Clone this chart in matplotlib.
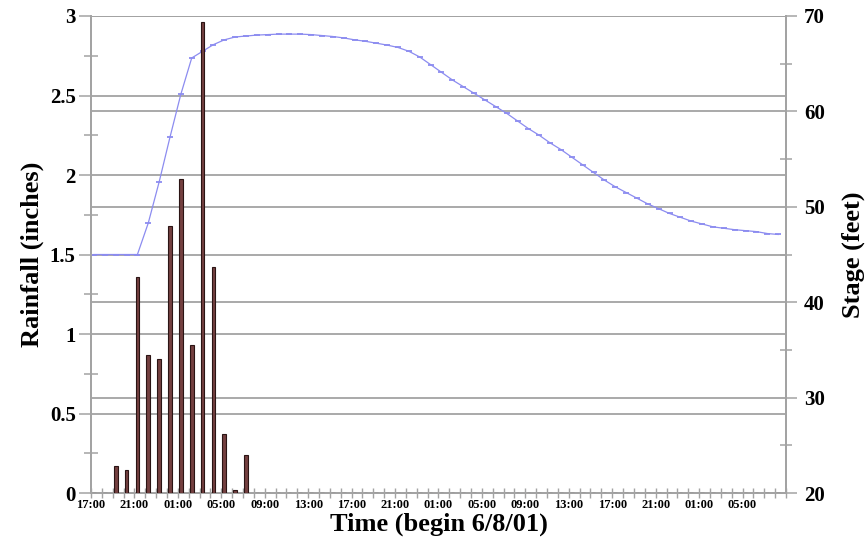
import numpy as np
import matplotlib
matplotlib.use('Agg')
import matplotlib.pyplot as plt
from matplotlib.ticker import MultipleLocator, FixedLocator

# hourly values, hour 0 = 17:00 on 6/8/01
rainfall = [0, 0, 0.17, 0.145, 1.36, 0.87, 0.84, 1.68, 1.975, 0.93, 2.96, 1.42, 0.37, 0.02, 0.24] + [0] * 49
stage = [45.0, 45.0, 45.0, 45.0, 45.0, 48.3, 52.6, 57.3, 61.8, 65.6,
         66.3, 67.0, 67.5, 67.8, 67.9, 68.0, 68.05, 68.1, 68.1, 68.1,
         68.05, 67.95, 67.85, 67.7, 67.5, 67.35, 67.15, 66.95, 66.7, 66.3,
         65.7, 64.9, 64.1, 63.3, 62.6, 61.9, 61.2, 60.5, 59.8, 59.0,
         58.2, 57.5, 56.7, 56.0, 55.2, 54.4, 53.6, 52.8, 52.1, 51.5,
         50.9, 50.3, 49.8, 49.3, 48.9, 48.5, 48.2, 47.9, 47.75, 47.6,
         47.5, 47.4, 47.2, 47.1]
tick_labels = ['17:00', '21:00', '01:00', '05:00', '09:00', '13:00', '17:00', '21:00',
               '01:00', '05:00', '09:00', '13:00', '17:00', '21:00', '01:00', '05:00']

GRID = '#a3a3a3'
FONT = 'Liberation Serif'


def show_rain_stage_chart(rain, stg):
    hours = np.arange(len(rain))
    x = hours + 0.28  # data sits a bit right of the hour tick

    fig = plt.figure(figsize=(8.66, 5.46), dpi=100)
    ax = fig.add_axes([0.105, 0.097, 0.8026, 0.8737])
    ax2 = ax.twinx()
    ax.set_zorder(ax2.get_zorder() + 1)
    ax.patch.set_visible(False)

    ax2.plot(x, stg, color='#8c8cf0', lw=0.9, marker='_', ms=4, mew=1.3, zorder=2)
    ax.bar(x, rain, width=0.34, color='#744040', edgecolor='#2b1414', lw=0.8, zorder=3)

    ax.set_xlim(0, 64)
    ax.set_ylim(0, 3)
    ax2.set_ylim(20, 70)

    ax.yaxis.set_minor_locator(MultipleLocator(0.25))
    ax2.yaxis.set_major_locator(MultipleLocator(10))
    ax2.yaxis.set_minor_locator(MultipleLocator(5))
    ax.set_yticks(np.arange(0, 3.01, 0.5))
    ax.set_yticklabels(['0', '0.5', '1', '1.5', '2', '2.5', '3'])

    ax.xaxis.set_major_locator(FixedLocator(np.arange(0, 61, 4)))
    ax.xaxis.set_minor_locator(MultipleLocator(1))
    ax.set_xticklabels(tick_labels)

    for a in (ax, ax2):
        for s in a.spines.values():
            s.set_color(GRID)
            s.set_linewidth(1.3)
        a.spines['top'].set_visible(False)
    ax2.yaxis.grid(True, color=GRID, lw=1.3)
    ax2.set_axisbelow(True)
    # left-axis grid drawn on ax2 so it stays behind the bars
    for v in np.arange(0.5, 3.01, 0.5):
        ax2.axhline(20 + v / 3 * 50, color=GRID, lw=1.3, zorder=0.5)

    ax.tick_params(axis='y', which='major', direction='out', length=9, width=1.1, color=GRID,
                   labelsize=15, pad=2)
    ax.tick_params(axis='y', which='minor', direction='inout', length=10, width=1.1, color=GRID)
    ax2.tick_params(axis='y', which='major', direction='out', length=8, width=1.1, color=GRID,
                    labelsize=15, pad=5)
    ax2.tick_params(axis='y', which='minor', direction='inout', length=9, width=1.1, color=GRID)
    ax.tick_params(axis='x', which='both', direction='inout', length=7, width=1.0, color=GRID,
                   labelsize=9, pad=1)
    ax2.tick_params(axis='x', which='both', bottom=False)

    for lab in ax.get_yticklabels() + ax2.get_yticklabels() + ax.get_xticklabels():
        lab.set_fontfamily(FONT)
        lab.set_fontweight('bold')

    ax.set_ylabel('Rainfall (inches)', fontfamily=FONT, fontweight='bold', fontsize=19, labelpad=4)
    ax2.set_ylabel('Stage (feet)', fontfamily=FONT, fontweight='bold', fontsize=19, labelpad=12)
    ax.set_xlabel('Time (begin 6/8/01)', fontfamily=FONT, fontweight='bold', fontsize=19, labelpad=1)

    fig.savefig('out.png', dpi=100)


def main():
    show_rain_stage_chart(rainfall, stage)


if __name__ == '__main__':
    main()
